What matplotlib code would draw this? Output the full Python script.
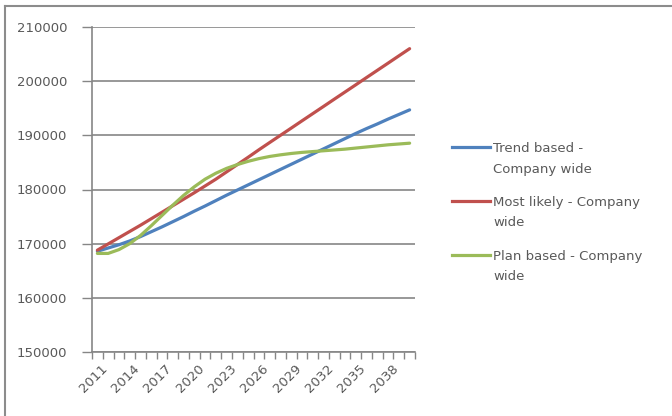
import numpy as np
import matplotlib.pyplot as plt
from matplotlib.lines import Line2D

years = list(range(2011, 2041))

trend_based = [168600, 169200, 169800, 170500, 171300, 172200, 173100, 174050, 175000, 176000,
               176950, 177950, 178950, 179900, 180850, 181800, 182750, 183700, 184650, 185600,
               186550, 187500, 188450, 189400, 190350, 191250, 192100, 193000, 193850, 194700]
most_likely = [168800, 169950, 171100, 172250, 173400, 174600, 175800, 177000, 178200, 179400,
               180650, 181900, 183250, 184600, 185950, 187330, 188670, 190000, 191330, 192670,
               194000, 195330, 196670, 198000, 199330, 200670, 202000, 203330, 204670, 206000]
plan_based = [168200, 168200, 168900, 170000, 171500, 173300, 175200, 177100, 178900, 180500,
              181900, 183000, 183900, 184600, 185200, 185700, 186100, 186400, 186650, 186850,
              187000, 187150, 187300, 187450, 187650, 187850, 188050, 188250, 188400, 188550]

series_labels = ["Trend based -\nCompany wide",
                 "Most likely - Company\nwide",
                 "Plan based - Company\nwide"]
colors = ["#4F81BD", "#C0504D", "#9BBB59"]

y_ticks = [150000, 160000, 170000, 180000, 190000, 200000, 210000]

text_col = "#595959"
axis_col = "#868686"

plt.rcParams['font.family'] = ['DejaVu Sans']

W, H = 672, 416
fig = plt.figure(figsize=(W / 100, H / 100), dpi=100)
ax = fig.add_axes([92 / W, 1 - 352 / H, 323 / W, 325 / H])

x = np.arange(len(years))
for vals, c, lab in zip([trend_based, most_likely, plan_based], colors, series_labels):
    ax.plot(x, vals, color=c, lw=2.3, label=lab, solid_capstyle='round', zorder=3)

ax.set_xlim(-0.5, len(years) - 0.5)
ax.set_ylim(150000, 210000)
ax.set_yticks(y_ticks)
ax.set_yticklabels([str(v) for v in y_ticks], fontsize=9.5, color=text_col)
ax.yaxis.grid(True, color=axis_col, lw=1.2)
ax.set_axisbelow(True)

# category ticks sit between the years, labels on every third year
ax.set_xticks(np.arange(len(years) + 1) - 0.5)
ax.set_xticklabels([])
ax.tick_params(axis='x', length=5, width=1, color=axis_col, direction='out')
ax.tick_params(axis='y', length=7, width=1, color=axis_col, direction='out', pad=11)
for i in range(0, len(years) - 2, 3):
    ax.text(i + 0.3, 150000 - 1900, str(years[i]), rotation=45, ha='right', va='top',
            rotation_mode='anchor', fontsize=9.5, color=text_col, clip_on=False)

for s in ['top', 'right']:
    ax.spines[s].set_visible(False)
for s in ['left', 'bottom']:
    ax.spines[s].set_color(axis_col)
    ax.spines[s].set_linewidth(1.2)

# legend: key line sits on the first line of each two-line label
for k, (c, lab) in enumerate(zip(colors, series_labels)):
    y0 = 147 + 54 * k
    fig.add_artist(Line2D([452 / W, 490 / W], [1 - y0 / H, 1 - y0 / H], color=c, lw=2.3,
                          transform=fig.transFigure))
    fig.text(493 / W, 1 - (y0 - 5) / H, lab, ha='left', va='top', fontsize=9.5,
             color=text_col, linespacing=1.75)

# chart area frame
fig.add_artist(Line2D([5 / W, 1], [1 - 6 / H, 1 - 6 / H], color="#8c8c8c", lw=1.5,
                      transform=fig.transFigure))
fig.add_artist(Line2D([5 / W, 5 / W], [0, 1 - 6 / H], color="#8c8c8c", lw=1.5,
                      transform=fig.transFigure))

fig.savefig("out.png", dpi=100, facecolor="white")
